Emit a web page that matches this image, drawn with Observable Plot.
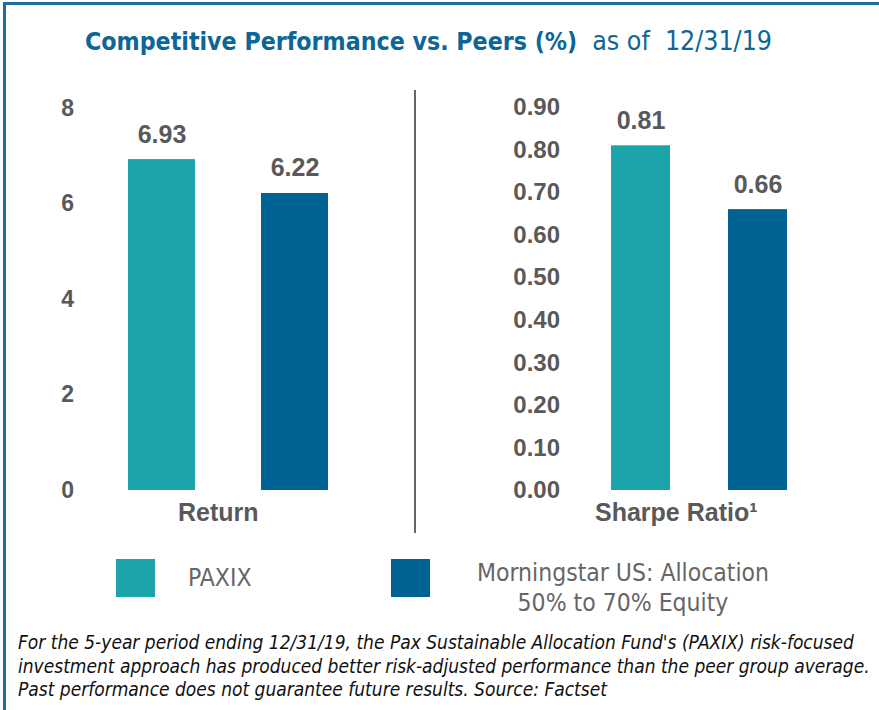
<!DOCTYPE html>
<html><head><meta charset="utf-8">
<script src="https://cdn.jsdelivr.net/npm/d3@7"></script>
<script src="https://cdn.jsdelivr.net/npm/@observablehq/plot@0.6"></script>
<style>
body{margin:0;background:#fff}
#wrap{position:relative;width:879px;height:710px;overflow:hidden;font-family:"Liberation Sans",Arial,sans-serif;background:#fff}
#frame{position:absolute;left:3px;top:2px;right:-5px;bottom:-5px;border-top:3px solid #1e6c9b;border-left:3px solid #1e6c9b}
#title{position:absolute;left:85px;top:25px;white-space:nowrap;color:#0d6696;font-family:"Liberation Sans Narrow","DejaVu Sans Condensed",sans-serif;line-height:32px}
#title b{font-size:24.7px;font-weight:bold}
#title span{font-size:26.5px;margin-left:15px}
.panel{position:absolute;top:0}
#divider{position:absolute;left:414px;top:90px;width:2px;height:443px;background:#666}
.lg{position:absolute;font-family:"Liberation Sans Narrow","DejaVu Sans Condensed",sans-serif;font-size:24.5px;color:#666;line-height:30px}
.sw{position:absolute;width:39px;height:38px;top:559px}
#foot{position:absolute;left:18px;top:631px;font-family:"Liberation Sans Narrow","DejaVu Sans Condensed",sans-serif;font-style:italic;font-size:19px;line-height:23.5px;color:#111;white-space:nowrap}
</style></head>
<body>
<div id="wrap">
  <div id="frame"></div>
  <div id="title"><b>Competitive Performance vs. Peers (%)</b><span>as of&nbsp; 12/31/19</span></div>
  <div id="left" class="panel" style="left:0"></div>
  <div id="divider"></div>
  <div id="right" class="panel" style="left:415px"></div>
  <div id="legend"></div>
  <div id="foot">For the 5-year period ending 12/31/19, the Pax Sustainable Allocation Fund's (PAXIX) risk-focused<br>investment approach has produced better risk-adjusted performance than the peer group average.<br>Past performance does not guarantee future results. Source: Factset</div>
</div>
<script>
const series = ["PAXIX", "Morningstar US: Allocation 50% to 70% Equity"];
const legendLines = [["PAXIX"], ["Morningstar US: Allocation", "50% to 70% Equity"]];
const colors = ["#1ba5ab", "#006394"];
const returnValues = [6.93, 6.22];
const sharpeValues = [0.81, 0.66];
const returnTicks = [0, 2, 4, 6, 8];
const sharpeTicks = [0, 0.1, 0.2, 0.3, 0.4, 0.5, 0.6, 0.7, 0.8, 0.9];

const font = '"Liberation Sans", Arial, sans-serif';
const gray = "#595959";
const f2 = d3.format(".2f");

function panel({values, domain, ticks, fmt, label, width, marginLeft, marginRight, marginTop, axisDx, tickFont, labelDx}) {
  const data = series.map((s, i) => ({series: s, value: values[i]}));
  return Plot.plot({
    width, height: 540,
    marginLeft, marginRight, marginTop, marginBottom: 50,
    x: {domain: series, padding: 0.5, axis: null},
    y: {domain, axis: null},
    color: {domain: series, range: colors},
    style: {fontFamily: font, color: gray, background: "transparent", overflow: "visible"},
    marks: [
      Plot.axisY(ticks, {tickSize: 0, tickPadding: 0, dx: axisDx, fontSize: tickFont, fontWeight: "bold", tickFormat: fmt, fill: gray, label: null}),
      Plot.barY(data, {x: "series", y: "value", fill: "series"}),
      Plot.text(data, {x: "series", y: "value", text: d => f2(d.value), lineAnchor: "bottom", dy: -17, fontSize: 25, fontWeight: "bold", fill: gray}),
      Plot.text([label], {frameAnchor: "bottom", dy: 30, dx: labelDx, fontSize: 25, fontWeight: "bold", fill: gray})
    ]
  });
}

document.getElementById("left").append(panel({
  values: returnValues, domain: [0, 8], ticks: returnTicks, fmt: d3.format("d"),
  label: "Return", width: 415, marginLeft: 61.5, marginRight: 21, marginTop: 108,
  axisDx: 12, tickFont: 23, labelDx: -10
}));
document.getElementById("right").append(panel({
  values: sharpeValues, domain: [0, 0.9], ticks: sharpeTicks, fmt: f2,
  label: "Sharpe Ratio\u00B9", width: 464, marginLeft: 137.5, marginRight: 34, marginTop: 107,
  axisDx: 7, tickFont: 24, labelDx: -23
}));

// legend
const lg = document.getElementById("legend");
const swX = [116, 391];
series.forEach((s, i) => {
  const sw = document.createElement("div");
  sw.className = "sw"; sw.style.left = swX[i] + "px"; sw.style.background = colors[i];
  lg.append(sw);
});
const t1 = document.createElement("div");
t1.className = "lg"; t1.style.left = "188px"; t1.style.top = "563px";
t1.textContent = legendLines[0][0];
lg.append(t1);
const t2 = document.createElement("div");
t2.className = "lg"; t2.style.left = "463px"; t2.style.width = "320px"; t2.style.textAlign = "center"; t2.style.top = "558px";
t2.innerHTML = legendLines[1].join("<br>");
lg.append(t2);
</script>
</body></html>
